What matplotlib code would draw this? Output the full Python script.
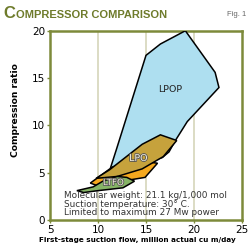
import matplotlib
matplotlib.use("Agg")
import matplotlib.pyplot as plt
import matplotlib.patheffects as pe
from matplotlib.patches import Polygon

# region outlines (flow, ratio)
lpop_x = [11.3, 11.9, 15.0, 16.5, 19.1, 22.2, 22.6, 19.3, 18.0, 17.4, 16.7, 12.5]
lpop_y = [5.5, 7.4, 17.4, 18.6, 20.0, 15.6, 14.0, 10.4, 8.3, 7.2, 6.6, 5.3]

orange_x = [9.2, 11.5, 14.0, 16.2, 14.9, 12.5, 10.0]
orange_y = [3.9, 5.6, 6.3, 6.0, 4.5, 4.1, 3.6]

lpo_x = [9.8, 11.2, 14.6, 16.5, 18.2, 16.8, 14.6, 12.0]
lpo_y = [4.4, 5.3, 8.0, 9.0, 8.4, 6.7, 5.4, 4.6]

ltfo_x = [7.8, 9.5, 10.5, 12.0, 13.0, 13.8, 12.6, 10.0, 8.5]
ltfo_y = [3.1, 3.5, 4.1, 4.6, 4.5, 4.1, 3.4, 3.1, 2.9]

xticks = [5, 10, 15, 20, 25]
yticks = [0, 5, 10, 15, 20]
notes = ["Molecular weight: 21.1 kg/1,000 mol",
         "Suction temperature: 30° C.",
         "Limited to maximum 27 Mw power"]

olive = "#7d8a3a"
plt.rcParams["font.family"] = ["DejaVu Sans"]
lib = ["Liberation Sans", "DejaVu Sans"]

fig = plt.figure(figsize=(2.5, 2.48), dpi=100)
ax = fig.add_axes([0.2, 0.113, 0.768, 0.763])

for xs, ys, col in [(lpop_x, lpop_y, "#aedff0"),
                    (orange_x, orange_y, "#f4a81e"),
                    (lpo_x, lpo_y, "#c6a23c"),
                    (ltfo_x, ltfo_y, "#86b466")]:
    ax.add_patch(Polygon(list(zip(xs, ys)), closed=True, facecolor=col,
                         edgecolor="black", lw=1.1, zorder=3))

for gx in xticks[1:-1]:
    ax.axvline(gx, color="#dcdcc4", lw=1.4, zorder=1)

ax.text(17.55, 13.8, "LPOP", fontsize=6.8, ha="center", va="center", color="#222222", zorder=5)
halo = [pe.withStroke(linewidth=1.2, foreground="#555555")]
ax.text(14.2, 6.5, "LPO", fontsize=6.8, ha="center", va="center", color="#f4eedc",
        path_effects=halo, zorder=5)
ax.text(11.6, 3.95, "LTFO", fontsize=6.3, ha="center", va="center", color="#f4eedc",
        path_effects=halo, zorder=5)

for i, line in enumerate(notes):
    ax.text(6.5, 2.6 - i * 0.92, line, fontsize=6.4, color="#333333", va="center", zorder=6)

ax.set_xlim(5, 25)
ax.set_ylim(0, 20)
ax.set_xticks(xticks)
ax.set_yticks(yticks)
ax.tick_params(colors=olive, labelcolor="black", labelsize=7.5, length=2.5, width=1, pad=1)
for s in ax.spines.values():
    s.set_color(olive)
    s.set_linewidth(1.8)
ax.set_ylabel("Compression ratio", fontsize=6.6, fontweight="bold")
ax.yaxis.set_label_coords(-0.155, 0.58)
ax.set_xlabel("First-stage suction flow, million actual cu m/day", fontsize=5.2,
              fontweight="bold")
ax.xaxis.set_label_coords(0.453, -0.088)

fig.text(0.012, 0.926, "C", fontsize=12, fontweight="bold", color="#6e7b2b", family=lib)
fig.text(0.064, 0.926, "OMPRESSOR COMPARISON", fontsize=8, fontweight="bold",
         color="#6e7b2b", family=lib)
fig.text(0.985, 0.935, "Fig. 1", fontsize=5.5, color="#666666", ha="right", family=lib)

fig.savefig("out.png", dpi=100)
